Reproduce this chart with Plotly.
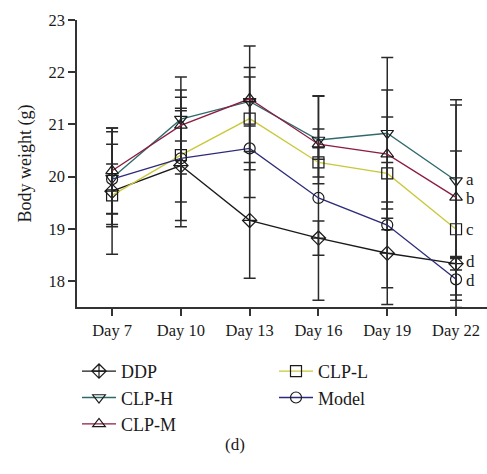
import plotly.graph_objects as go

days = ["Day 7", "Day 10", "Day 13", "Day 16", "Day 19", "Day 22"]

ddp = [19.72, 20.21, 19.16, 18.82, 18.53, 18.33]
ddp_sd = [1.21, 1.05, 1.11, 0.33, 0.98, 0.12]
clp_h = [19.97, 21.10, 21.44, 20.70, 20.83, 19.92]
clp_h_sd = [0.89, 0.42, 0.47, 0.84, 1.45, 1.45]
clp_m = [20.11, 20.98, 21.49, 20.62, 20.43, 19.60]
clp_m_sd = [0.82, 0.93, 1.01, 0.29, 1.23, 1.87]
clp_l = [19.64, 20.41, 21.11, 20.27, 20.06, 18.99]
clp_l_sd = [0.60, 0.90, 0.98, 0.28, 1.08, 1.50]
model = [19.95, 20.35, 20.54, 19.59, 19.07, 18.03]
model_sd = [0.67, 1.31, 0.94, 1.96, 1.20, 0.40]

sig_labels = ["a", "b", "c", "d", "d"]
sig_values = [clp_h[-1], clp_m[-1], clp_l[-1], ddp[-1], model[-1]]
sig_shift = [2, -1, 0, 3, -1]

FONT = "Liberation Serif"
x_idx = list(range(len(days)))

series = [
    ("DDP", ddp, ddp_sd, "#1a1a1a", "diamond-cross-open"),
    ("CLP-L", clp_l, clp_l_sd, "#c9c83a", "square-open"),
    ("CLP-H", clp_h, clp_h_sd, "#2e6a6c", "triangle-down-open"),
    ("Model", model, model_sd, "#2c2a7a", "circle-open"),
    ("CLP-M", clp_m, clp_m_sd, "#8c1c40", "triangle-up-open"),
]

fig = go.Figure()
for name, vals, sd, col, sym in series:
    fig.add_trace(go.Scatter(
        x=x_idx, y=vals, name=name, mode="lines+markers",
        line=dict(color=col, width=1.3),
        marker=dict(symbol=sym, size=11, color="#1a1a1a", line=dict(width=1.2, color="#1a1a1a")),
        error_y=dict(type="data", array=sd, visible=True, color="#2a2a2a", thickness=1.5, width=6),
    ))

for lab, v, sh in zip(sig_labels, sig_values, sig_shift):
    fig.add_annotation(x=x_idx[-1], y=v, text=lab, showarrow=False, xanchor="left",
                       xshift=8, yshift=sh, height=16, valign="middle",
                       font=dict(family=FONT, size=17, color="#1a1a1a"))

fig.add_annotation(x=0.385, y=-0.48, xref="paper", yref="paper", text="(d)", showarrow=False,
                   yanchor="middle", font=dict(family=FONT, size=17, color="#1a1a1a"))

fig.update_layout(
    width=487, height=474,
    margin=dict(l=77, r=0, t=20, b=167),
    plot_bgcolor="white", paper_bgcolor="white",
    font=dict(family=FONT, size=16, color="#1a1a1a"),
    showlegend=True,
    legend=dict(orientation="h", x=0.0, y=-0.16, xanchor="left", yanchor="top",
                entrywidth=148, entrywidthmode="pixels", tracegroupgap=0,
                font=dict(family=FONT, size=18, color="#1a1a1a"), itemwidth=34,
                traceorder="normal"),
    xaxis=dict(range=[-0.51, 5.45], tickmode="array", tickvals=x_idx, ticktext=days,
               showline=True, linecolor="#333", linewidth=1.5, ticks="outside", ticklen=7,
               tickwidth=1.5, tickcolor="#333", showgrid=False, zeroline=False,
               tickfont=dict(family=FONT, size=16.5)),
    yaxis=dict(range=[17.5, 23], tickvals=[18, 19, 20, 21, 22, 23],
               showline=True, linecolor="#333", linewidth=1.5, ticks="outside", ticklen=7,
               tickwidth=1.5, tickcolor="#333", showgrid=False, zeroline=False,
               title=dict(text="Body weight (g)", font=dict(family=FONT, size=18), standoff=12),
               tickfont=dict(family=FONT, size=16.5)),
)

fig.write_html("out.html", config={"displayModeBar": False},
               post_script="document.body.style.margin='0';document.body.style.overflow='hidden';")
